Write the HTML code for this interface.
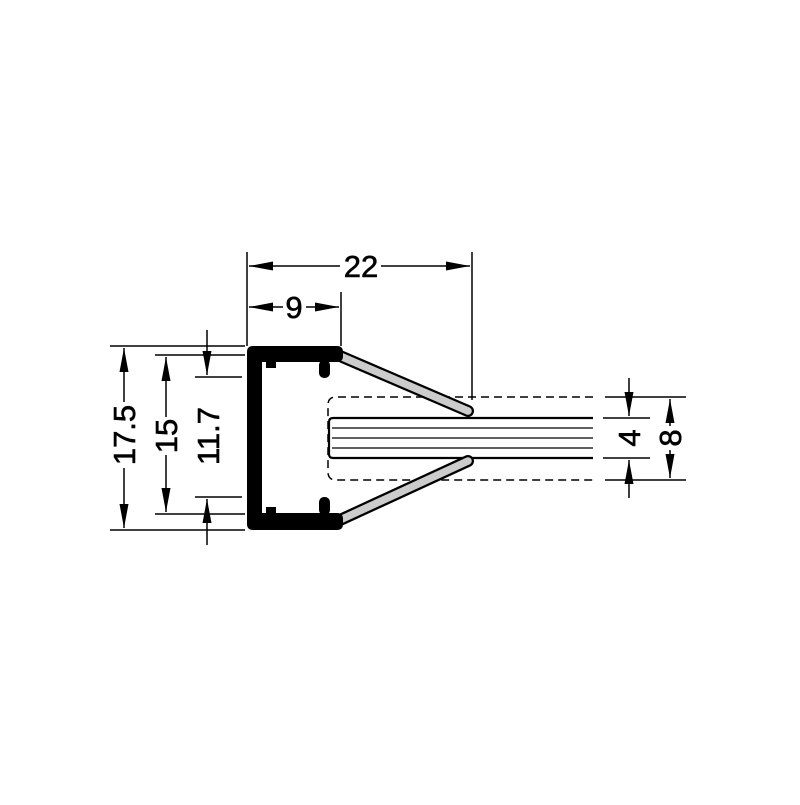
<!DOCTYPE html>
<html><head><style>body{margin:0;background:#fff}</style></head><body>
<svg width="800" height="800" xmlns="http://www.w3.org/2000/svg" font-family="Liberation Sans, sans-serif" font-size="31" font-weight="bold">
<defs>
<marker id="a" markerWidth="24" markerHeight="9" refX="24" refY="4.5" orient="auto" markerUnits="userSpaceOnUse" viewBox="0 0 24 9"><path d="M0,0L24,4.5L0,9z" fill="#000"/></marker>
</defs>
<rect width="800" height="800" fill="#fff"/>
<g stroke="#000" stroke-width="1.5" fill="none">
<line x1="247" y1="252" x2="247" y2="346"/>
<line x1="472" y1="252" x2="472" y2="400"/>
<line x1="340" y1="266" x2="249" y2="266" marker-end="url(#a)"/>
<line x1="381" y1="266" x2="470" y2="266" marker-end="url(#a)"/>
<line x1="341" y1="292" x2="341" y2="346"/>
<line x1="283" y1="307" x2="249" y2="307" marker-end="url(#a)"/>
<line x1="306" y1="307" x2="339" y2="307" marker-end="url(#a)"/>
<line x1="110" y1="346" x2="245" y2="346"/>
<line x1="110" y1="530" x2="245" y2="530"/>
<line x1="124" y1="402" x2="124" y2="348" marker-end="url(#a)"/>
<line x1="124" y1="468" x2="124" y2="528" marker-end="url(#a)"/>
<line x1="155" y1="355" x2="245" y2="355"/>
<line x1="155" y1="514" x2="245" y2="514"/>
<line x1="166" y1="417" x2="166" y2="357" marker-end="url(#a)"/>
<line x1="166" y1="455" x2="166" y2="512" marker-end="url(#a)"/>
<line x1="195" y1="377" x2="242" y2="377"/>
<line x1="195" y1="497" x2="242" y2="497"/>
<line x1="207" y1="330" x2="207" y2="375" marker-end="url(#a)"/>
<line x1="207" y1="545" x2="207" y2="499" marker-end="url(#a)"/>
<line x1="603" y1="418" x2="650" y2="418"/>
<line x1="603" y1="458" x2="650" y2="458"/>
<line x1="629" y1="378" x2="629" y2="416" marker-end="url(#a)"/>
<line x1="629" y1="498" x2="629" y2="460" marker-end="url(#a)"/>
<line x1="605" y1="397" x2="686" y2="397"/>
<line x1="605" y1="480" x2="686" y2="480"/>
<line x1="670" y1="426" x2="670" y2="399" marker-end="url(#a)"/>
<line x1="670" y1="450" x2="670" y2="478" marker-end="url(#a)"/>
</g>
<path d="M593,397 H336 Q328,397 328,405 V472 Q328,480 336,480 H593" fill="none" stroke="#000" stroke-width="1.5" stroke-dasharray="8,5"/>
<path d="M593,418 H333 Q329,418 329,422 V454 Q329,458 333,458 H593" fill="#fff" stroke="#000" stroke-width="2.2"/>
<g stroke="#000" stroke-width="1.3"><line x1="332" y1="428" x2="593" y2="428"/><line x1="332" y1="438" x2="593" y2="438"/><line x1="332" y1="448" x2="593" y2="448"/></g>
<g stroke-linecap="round">
<line x1="340" y1="356" x2="468" y2="411" stroke="#000" stroke-width="12"/>
<line x1="340" y1="356" x2="468" y2="411" stroke="#ccc" stroke-width="7.5"/>
<line x1="340" y1="520" x2="468" y2="461" stroke="#000" stroke-width="12"/>
<line x1="340" y1="520" x2="468" y2="461" stroke="#ccc" stroke-width="7.5"/>
</g>
<path d="M253,346 H337 Q343,346 343,352 V356 Q343,362 337,362 H262 V513 H337 Q343,513 343,519 V524 Q343,530 337,530 H253 Q247,530 247,524 V352 Q247,346 253,346Z" fill="#000"/>
<rect x="266" y="362" width="10" height="6" fill="#000"/>
<rect x="266" y="507" width="10" height="6" fill="#000"/>
<rect x="319" y="360" width="11" height="18" rx="5" fill="#000"/>
<rect x="319" y="497" width="11" height="18" rx="5" fill="#000"/>
<g font-weight="normal" style="font-weight:500" stroke="#000" stroke-width="0.6">
<text x="361" y="277" text-anchor="middle">22</text>
<text x="294" y="318" text-anchor="middle">9</text>
<text transform="translate(135,435) rotate(-90)" text-anchor="middle">17.5</text>
<text transform="translate(177,436) rotate(-90)" text-anchor="middle">15</text>
<text transform="translate(219,436) rotate(-90)" text-anchor="middle">11.7</text>
<text transform="translate(640,438) rotate(-90)" text-anchor="middle">4</text>
<text transform="translate(681,438) rotate(-90)" text-anchor="middle">8</text>
</g>
</svg>
</body></html>
